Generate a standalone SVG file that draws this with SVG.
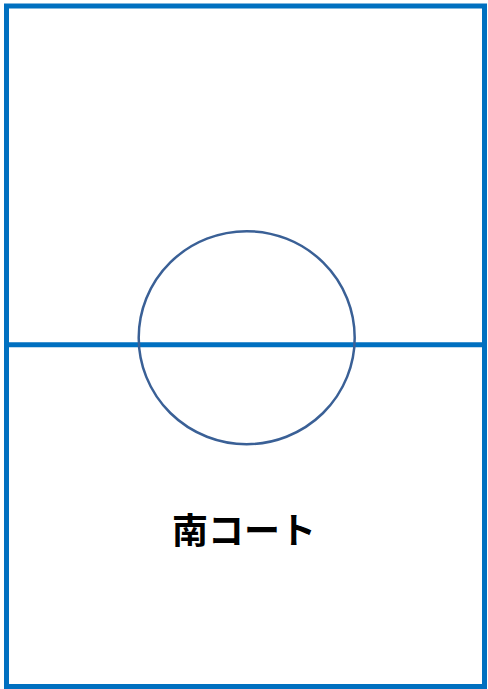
<svg xmlns="http://www.w3.org/2000/svg" width="488" height="689" viewBox="0 0 488 689">
<style>
.court{fill:none;stroke:#0070C0;stroke-width:5}
.circle{fill:none;stroke:#3A6096;stroke-width:2.5}
.label{font-family:"Noto Sans CJK JP","Noto Sans",sans-serif;font-weight:bold;font-size:36px;fill:#000}
</style>
<rect width="488" height="689" fill="#fff"/>
<g id="court">
<rect class="court" x="6.5" y="6" width="478" height="680.5"/>
</g>
<g id="connectors">
<line class="court" x1="6.5" y1="344.7" x2="484.5" y2="344.7"/>
</g>
<g id="center-circle">
<ellipse class="circle" cx="246.7" cy="337.7" rx="108" ry="106.5"/>
</g>
<g id="label">
<text class="label" x="244" y="544" text-anchor="middle">南コート</text>
</g>
</svg>
